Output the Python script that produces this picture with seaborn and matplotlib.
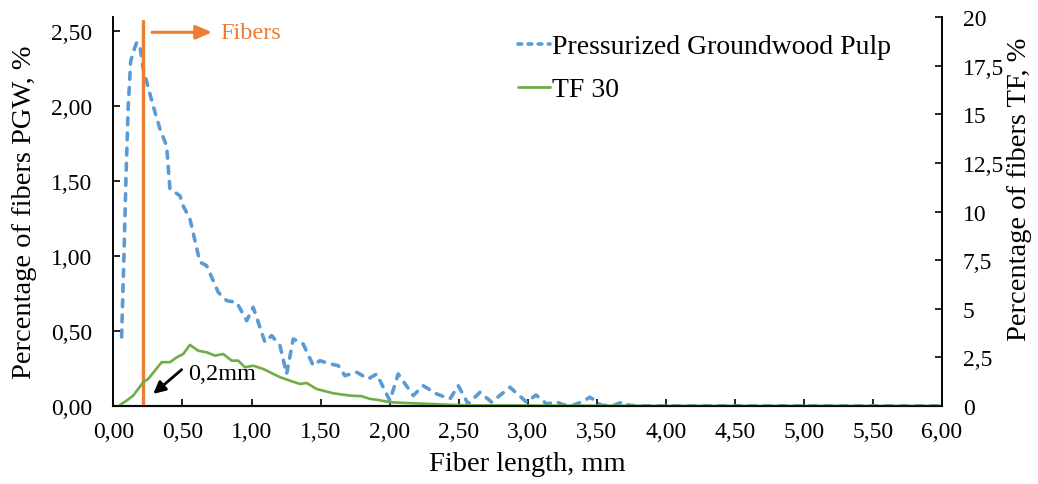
import matplotlib
matplotlib.use("Agg")
import matplotlib.pyplot as plt
import seaborn as sns
import pandas as pd
from matplotlib.lines import Line2D
from matplotlib.ticker import FixedLocator, FixedFormatter

# ---------------- data ----------------
pgw_length = [0.059, 0.076, 0.09, 0.107, 0.125, 0.143, 0.168, 0.192, 0.216, 0.288, 0.337, 0.385,
              0.409, 0.482, 0.505, 0.554, 0.626, 0.675, 0.759, 0.82, 0.892, 0.965, 1.012, 1.097,
              1.146, 1.206, 1.254, 1.302, 1.374, 1.447, 1.495, 1.568, 1.628, 1.676, 1.761, 1.845,
              1.906, 2.002, 2.062, 2.171, 2.243, 2.34, 2.437, 2.497, 2.569, 2.654, 2.739, 2.871,
              2.992, 3.06, 3.137, 3.21, 3.255, 3.33, 3.40, 3.45, 3.50, 3.53, 3.62, 3.69, 3.73,
              3.8, 4.0, 4.5, 5.0, 5.5, 6.0]
pgw_pct = [0.46, 1.00, 1.50, 2.00, 2.30, 2.36, 2.425, 2.40, 2.247, 2.00, 1.847, 1.735,
           1.447, 1.402, 1.335, 1.247, 0.96, 0.935, 0.758, 0.702, 0.691, 0.569, 0.658, 0.425,
           0.469, 0.402, 0.213, 0.447, 0.413, 0.269, 0.302, 0.28, 0.269, 0.202, 0.225, 0.18,
           0.213, 0.035, 0.213, 0.069, 0.135, 0.08, 0.047, 0.135, 0.013, 0.091, 0.025, 0.125,
           0.025, 0.073, 0.013, 0.027, 0.008, 0.005, 0.03, 0.058, 0.03, 0.005, 0.003, 0.027, 0.005,
           0.0, 0.0, 0.0, 0.0, 0.0, 0.0]

tf_length = [0.047, 0.095, 0.143, 0.216, 0.252, 0.349, 0.409, 0.458, 0.505, 0.554, 0.614,
             0.675, 0.735, 0.795, 0.856, 0.904, 0.952, 1.012, 1.085, 1.157, 1.206, 1.278,
             1.35, 1.399, 1.471, 1.592, 1.713, 1.797, 1.857, 1.906, 2.002, 2.123, 2.292,
             2.458, 2.6, 3.0, 3.5, 4.0, 5.0, 6.0]
tf_pct = [0.05, 0.27, 0.53, 1.22, 1.39, 2.25, 2.25, 2.50, 2.67, 3.14, 2.84,
          2.76, 2.59, 2.67, 2.33, 2.33, 1.99, 2.07, 1.90, 1.65, 1.48, 1.30,
          1.13, 1.18, 0.87, 0.65, 0.53, 0.50, 0.36, 0.32, 0.19, 0.15, 0.10,
          0.05, 0.03, 0.02, 0.01, 0.0, 0.0, 0.0]

x_ticks = [0.0, 0.5, 1.0, 1.5, 2.0, 2.5, 3.0, 3.5, 4.0, 4.5, 5.0, 5.5, 6.0]
x_tick_labels = ["0,00", "0,50", "1,00", "1,50", "2,00", "2,50", "3,00", "3,50",
                 "4,00", "4,50", "5,00", "5,50", "6,00"]
left_ticks = [0.0, 0.5, 1.0, 1.5, 2.0, 2.5]
left_tick_labels = ["0,00", "0,50", "1,00", "1,50", "2,00", "2,50"]
right_ticks = [0, 2.5, 5, 7.5, 10, 12.5, 15, 17.5, 20]
right_tick_labels = ["0", "2,5", "5", "7,5", "10", "12,5", "15", "17,5", "20"]

fiber_cut = 0.216          # orange marker line position (mm)
series_names = ["Pressurized Groundwood Pulp", "TF 30"]

BLUE = "#5B9BD5"
GREEN = "#70AD47"
ORANGE = "#ED7D31"

# ---------------- style ----------------
sns.set_theme(style="white")
plt.rcParams["font.family"] = ["Liberation Serif", "DejaVu Serif"]
plt.rcParams["mathtext.fontset"] = "dejavuserif"
for key in ("text.color", "axes.labelcolor", "xtick.color", "ytick.color",
            "xtick.labelcolor", "ytick.labelcolor"):
    plt.rcParams[key] = "black"

fig = plt.figure(figsize=(10.38, 4.85), dpi=100)
ax = fig.add_axes([0.1093, 0.161, 0.7982, 0.8013])
ax2 = ax.twinx()

pgw_df = pd.DataFrame({"length": pgw_length, "pct": pgw_pct})
tf_df = pd.DataFrame({"length": tf_length, "pct": tf_pct})

sns.lineplot(data=pgw_df, x="length", y="pct", ax=ax, color=BLUE, linewidth=2.6,
             linestyle=(0, (1.9, 2.3)), dash_capstyle="round", sort=False, legend=False)
sns.lineplot(data=tf_df, x="length", y="pct", ax=ax2, color=GREEN, linewidth=1.9,
             sort=False, legend=False)

ax.set_xlim(0, 6.0)
ax.set_ylim(0, 2.593)
ax2.set_ylim(0, 20)

# vertical orange line (fiber limit)
ax.plot([fiber_cut, fiber_cut], [0, 2.57], color=ORANGE, linewidth=2.4, zorder=5)

# "Fibers" arrow
ax.annotate("", xy=(0.713, 2.493), xytext=(0.279, 2.493),
            arrowprops=dict(arrowstyle="-|>,head_length=0.8,head_width=0.35",
                            color=ORANGE, lw=2.2, shrinkA=0, shrinkB=0))
ax.text(0.771, 2.493, "Fibers", color=ORANGE, fontsize=17.5, va="center", ha="left")

# "0,2mm" arrow
ax.annotate("", xy=(0.288, 0.08), xytext=(0.494, 0.242),
            arrowprops=dict(arrowstyle="-|>,head_length=0.6,head_width=0.3",
                            color="black", lw=2.0, shrinkA=0, shrinkB=0))
ax.text(0.539, 0.213, "0,2mm", color="black", fontsize=17.5, va="center", ha="left")

# ticks
ax.xaxis.set_major_locator(FixedLocator(x_ticks))
ax.xaxis.set_major_formatter(FixedFormatter(x_tick_labels))
ax.yaxis.set_major_locator(FixedLocator(left_ticks))
ax.yaxis.set_major_formatter(FixedFormatter(left_tick_labels))
ax2.yaxis.set_major_locator(FixedLocator(right_ticks))
ax2.yaxis.set_major_formatter(FixedFormatter(right_tick_labels))

ax.tick_params(axis="x", direction="in", length=5, width=1.2, color="black",
               labelcolor="black", labelsize=17, pad=11, bottom=True)
ax.tick_params(axis="y", direction="in", length=5, width=1.2, color="black",
               labelcolor="black", labelsize=17, pad=15, left=True)
ax2.tick_params(axis="y", direction="in", length=5, width=1.2, color="black",
                labelcolor="black", labelsize=17, pad=15, right=True)

for a in (ax, ax2):
    a.spines["top"].set_visible(False)
    for s in ("left", "right", "bottom"):
        a.spines[s].set_color("black")
        a.spines[s].set_linewidth(1.2)
    a.grid(False)
ax.spines["bottom"].set_color("#404040")
ax.spines["bottom"].set_linewidth(1.6)

ax.set_xlabel("Fiber length, mm", fontsize=20.5, color="black")
ax.set_ylabel("Percentage of fibers PGW, %", fontsize=20.5, color="black")
ax2.set_ylabel("Percentage of fibers TF, %", fontsize=20.5, color="black")
ax.xaxis.label.set_verticalalignment("center")
ax.yaxis.label.set_verticalalignment("center")
ax2.yaxis.label.set_verticalalignment("center")
ax.xaxis.set_label_coords(0.5, -0.149)
ax.yaxis.set_label_coords(-0.107, 0.5)
ax2.yaxis.set_label_coords(1.094, 0.561)

handles = [Line2D([], [], color=BLUE, linewidth=2.6, linestyle=(0, (1.0, 1.8)),
                  dash_capstyle="round"),
           Line2D([], [], color=GREEN, linewidth=2.0)]
leg = ax2.legend(handles, series_names, loc="upper left", bbox_to_anchor=(0.488, 0.957),
                 frameon=False, fontsize=20, handlelength=1.15, handletextpad=0.1,
                 labelspacing=0.63, borderpad=0, borderaxespad=0)
for t in leg.get_texts():
    t.set_color("black")

fig.savefig("out.png", dpi=100)
